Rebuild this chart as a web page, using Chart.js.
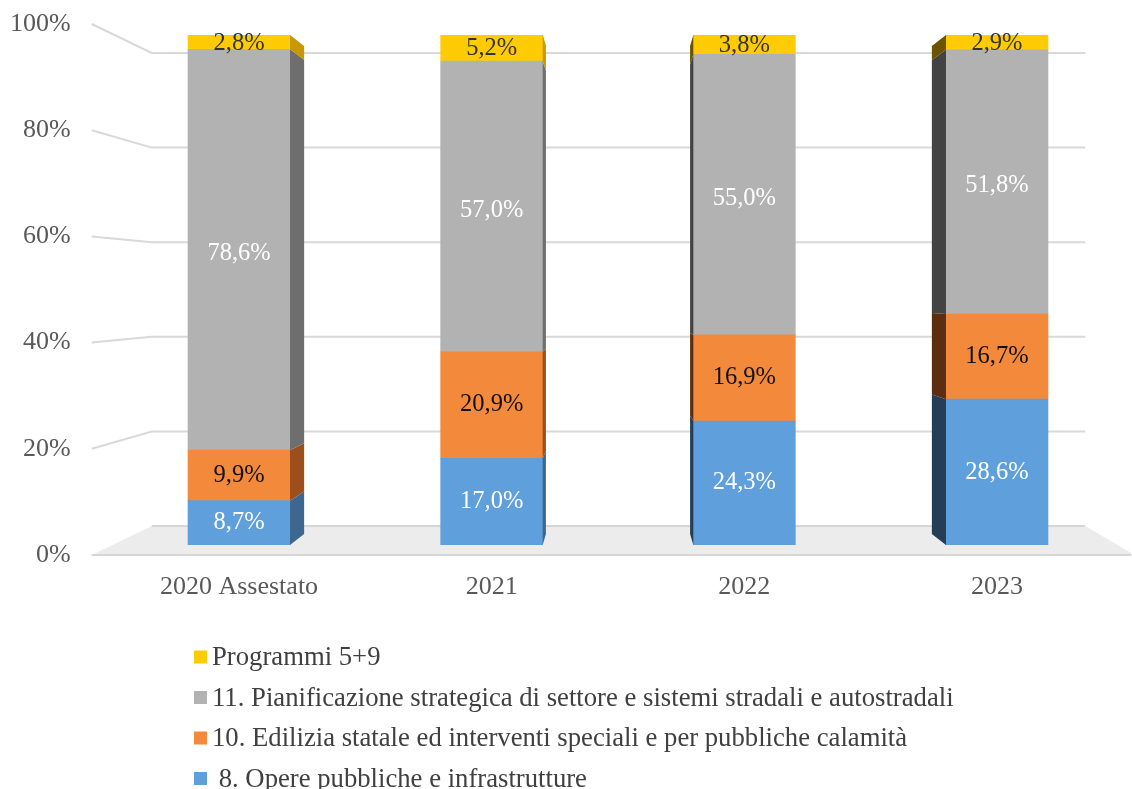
<!DOCTYPE html>
<html>
<head>
<meta charset="utf-8">
<script src="https://cdn.jsdelivr.net/npm/chart.js@4"></script>
<style>
  body { margin: 0; background: #ffffff; }
  canvas { display: block; }
</style>
</head>
<body>
<canvas id="chart" width="1132" height="789"></canvas>
<script>
const categories = ['2020 Assestato', '2021', '2022', '2023'];
const opere = [8.7, 17.0, 24.3, 28.6];
const edilizia = [9.9, 20.9, 16.9, 16.7];
const pianificazione = [78.6, 57.0, 55.0, 51.8];
const programmi = [2.8, 5.2, 3.8, 2.9];
const yTicks = [0, 20, 40, 60, 80, 100];
const seriesLabels = [
  ' 8. Opere pubbliche e infrastrutture',
  '10. Edilizia statale ed interventi speciali e per pubbliche calamità',
  '11. Pianificazione strategica di settore e sistemi stradali e autostradali',
  'Programmi 5+9'
];

const serif = 'Liberation Serif, Times New Roman, serif';
const DEPTH = 0.043;
const WALL = 0.109;

function fmt(v) {
  return v.toFixed(1).replace('.', ',') + '%';
}

// floor + perspective gridlines behind the bars
const backdrop = {
  id: 'backdrop',
  beforeDatasetsDraw(chart) {
    const { ctx, chartArea } = chart;
    const y2 = chart.scales.y2;
    const cy = (chartArea.top + chartArea.bottom) / 2;
    const backY = v => {
      const p = y2.getPixelForValue(v);
      return p + (cy - p) * WALL;
    };
    const frontX = chartArea.left - 21;
    const backX = chartArea.left + 39;
    const endX = chartArea.right - 38;

    ctx.save();
    const f0 = y2.getPixelForValue(0);
    const b0 = backY(0);
    ctx.fillStyle = '#ececec';
    ctx.beginPath();
    ctx.moveTo(frontX, f0);
    ctx.lineTo(backX, b0);
    ctx.lineTo(endX, b0);
    ctx.lineTo(chartArea.right + 8, f0 - 2);
    ctx.lineTo(chartArea.right + 8, f0);
    ctx.closePath();
    ctx.fill();
    ctx.strokeStyle = '#d6d6d6';
    ctx.lineWidth = 2;
    ctx.beginPath();
    ctx.moveTo(frontX, f0);
    ctx.lineTo(chartArea.right + 8, f0);
    ctx.moveTo(backX, b0);
    ctx.lineTo(endX, b0);
    ctx.stroke();

    ctx.strokeStyle = '#d9d9d9';
    ctx.lineWidth = 2;
    yTicks.slice(1).forEach(v => {
      ctx.beginPath();
      ctx.moveTo(frontX, y2.getPixelForValue(v));
      ctx.lineTo(backX, backY(v));
      ctx.lineTo(endX, backY(v));
      ctx.stroke();
    });
    ctx.restore();
  }
};

// side faces and value labels
const barDecor = {
  id: 'barDecor',
  afterDatasetsDraw(chart) {
    const { ctx, chartArea } = chart;
    const cx = (chartArea.left + chartArea.right) / 2;
    const cy = (chartArea.top + chartArea.bottom) / 2;
    ctx.save();
    chart.data.datasets.forEach((ds, di) => {
      const meta = chart.getDatasetMeta(di);
      meta.data.forEach(bar => {
        const half = bar.width / 2;
        const edge = bar.x < cx ? bar.x + half : bar.x - half;
        const back = edge + (cx - edge) * DEPTH;
        const top = bar.y, bot = bar.base;
        ctx.fillStyle = bar.x < cx ? ds.sideRight : ds.sideLeft;
        ctx.beginPath();
        ctx.moveTo(edge, top);
        ctx.lineTo(back, top + (cy - top) * DEPTH);
        ctx.lineTo(back, bot + (cy - bot) * DEPTH);
        ctx.lineTo(edge, bot);
        ctx.closePath();
        ctx.fill();
      });
    });
    ctx.textAlign = 'center';
    ctx.textBaseline = 'middle';
    ctx.font = '24.5px ' + serif;
    chart.data.datasets.forEach((ds, di) => {
      const meta = chart.getDatasetMeta(di);
      meta.data.forEach((bar, i) => {
        ctx.fillStyle = ds.labelColor;
        ctx.fillText(fmt(ds.data[i]), bar.x, (bar.y + bar.base) / 2 + ds.labelShift);
      });
    });
    ctx.restore();
  }
};

// vertical legend, top series first
const legendList = {
  id: 'legendList',
  afterDraw(chart) {
    const { ctx } = chart;
    ctx.save();
    ctx.font = '26.7px ' + serif;
    ctx.textBaseline = 'middle';
    ctx.textAlign = 'left';
    const items = chart.data.datasets.slice().reverse();
    items.forEach((ds, i) => {
      const y = 657 + i * 40.5;
      ctx.fillStyle = ds.backgroundColor;
      ctx.fillRect(194, y - 6.5, 13, 13);
      ctx.fillStyle = '#404040';
      ctx.fillText(ds.label, 212, y + 1);
    });
    ctx.restore();
  }
};

new Chart(document.getElementById('chart'), {
  type: 'bar',
  data: {
    labels: categories,
    datasets: [
      { label: seriesLabels[0], data: opere, backgroundColor: '#5f9fdb', sideRight: '#3c6890', sideLeft: '#243e58', labelColor: '#ffffff', labelShift: 0 },
      { label: seriesLabels[1], data: edilizia, backgroundColor: '#f2893b', sideRight: '#9c4e1b', sideLeft: '#5c2e0f', labelColor: '#111111', labelShift: 0 },
      { label: seriesLabels[2], data: pianificazione, backgroundColor: '#b2b2b2', sideRight: '#6e6e6e', sideLeft: '#434343', labelColor: '#ffffff', labelShift: 4 },
      { label: seriesLabels[3], data: programmi, backgroundColor: '#ffcb05', sideRight: '#c79800', sideLeft: '#6b5300', labelColor: '#333333', labelShift: 1 }
    ]
  },
  options: {
    responsive: false,
    animation: false,
    devicePixelRatio: 1,
    barThickness: 102,
    layout: { padding: { top: 35, right: 8.7, bottom: 174, left: 0 } },
    scales: {
      x: {
        stacked: true,
        offset: true,
        grid: { display: false, drawTicks: false },
        border: { display: false },
        ticks: { color: '#595959', font: { family: serif, size: 26 }, padding: 27 },
        afterFit: s => { s.height = 70; s.paddingLeft = 0; s.paddingRight = 0; }
      },
      y: {
        stacked: true,
        min: 0,
        max: 100,
        display: false
      },
      y2: {
        position: 'left',
        min: 1.883,
        max: 97.93,
        grid: { display: false, drawTicks: false },
        border: { display: false },
        afterBuildTicks: s => { s.ticks = yTicks.map(v => ({ value: v })); },
        ticks: {
          autoSkip: false,
          color: '#595959',
          font: { family: serif, size: 26 },
          padding: 42,
          callback: v => v + '%'
        },
        afterFit: s => { s.width = 112.7; s.paddingTop = 0; s.paddingBottom = 0; }
      }
    },
    plugins: {
      legend: { display: false },
      tooltip: { enabled: false }
    }
  },
  plugins: [backdrop, barDecor, legendList]
});
</script>
</body>
</html>
